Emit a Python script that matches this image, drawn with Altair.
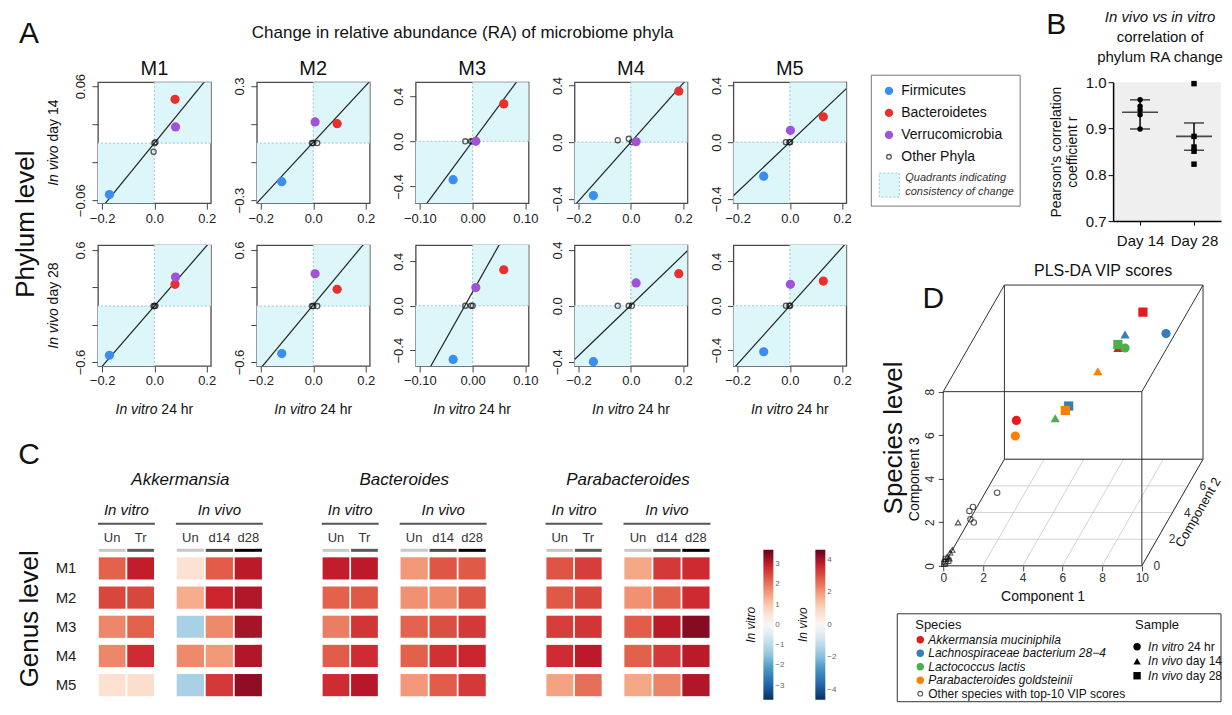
import altair as alt
import pandas as pd

FONT = "Liberation Sans"
ONE = pd.DataFrame({"k": [0]})

# ======================= Panel A: phylum-level RA change =======================
MICE = ["M1", "M2", "M3", "M4", "M5"]
PHYLA = ["Firmicutes", "Bacteroidetes", "Verrucomicrobia"]
PHYLA_COLORS = ["#3A8DF3", "#E8312D", "#A052D8"]
QUAD_FILL = "#DDF6FA"
QUAD_LINE = "#9CC6CF"

VITRO_FIRMICUTES = [-0.172, -0.120, -0.037, -0.143, -0.100]
VITRO_BACTEROIDETES = [0.079, 0.091, 0.059, 0.183, 0.128]
VITRO_VERRUCO = [0.081, 0.007, 0.006, 0.020, 0.002]
VITRO_OTHER = [[0.000, -0.003, 0.004], [-0.005, 0.015, 0.000], [-0.014, -0.003, 0.000],
               [-0.050, -0.008, 0.004], [-0.015, -0.002, 0.001]]

D14_FIRMICUTES = [-0.054, -0.203, -0.340, -0.377, -0.240]
D14_BACTEROIDETES = [0.046, 0.102, 0.332, 0.360, 0.179]
D14_VERRUCO = [0.017, 0.111, 0.000, 0.003, 0.084]
D14_OTHER = [[0.000, -0.009, 0.001], [0.000, 0.000, 0.000], [0.000, 0.000, 0.000],
             [0.014, 0.024, 0.000], [0.000, 0.000, 0.000]]
D14_FIT_SLOPE = [0.337, 1.49, 6.33, 2.08, 1.75]
D14_FIT_INTERCEPT = [0.0, 0.004, 0.0, 0.0, 0.0]

D28_FIRMICUTES = [-0.527, -0.509, -0.483, -0.400, -0.414]
D28_BACTEROIDETES = [0.233, 0.180, 0.324, 0.230, 0.222]
D28_VERRUCO = [0.310, 0.346, 0.164, 0.164, 0.193]
D28_OTHER = [[0.000, 0.000, 0.002], [0.000, 0.000, 0.000], [0.000, 0.000, 0.000],
             [0.000, 0.000, 0.000], [0.000, 0.000, 0.000]]
D28_FIT_SLOPE = [3.23, 3.39, 8.43, 1.806, 2.62]
D28_FIT_INTERCEPT = [0.0, 0.012, 0.125, 0.004, 0.0]

X_DOMAINS = [[-0.216, 0.216], [-0.215, 0.215], [-0.108, 0.106], [-0.215, 0.216], [-0.216, 0.216]]
X_TICK_STEP = [0.1, 0.1, 0.05, 0.1, 0.1]
X_LABEL_EDGE = [0.2, 0.2, 0.1, 0.2, 0.2]
X_FMT = [".1f", ".1f", ".2f", ".1f", ".1f"]
X_ZERO = ["0.0", "0.0", "0.00", "0.0", "0.0"]
D14_Y_DOMAINS = [[-0.063, 0.064], [-0.316, 0.32], [-0.548, 0.524], [-0.43, 0.423], [-0.43, 0.423]]
D14_Y_STEP = [0.02, 0.1, 0.2, 0.2, 0.2]
D14_Y_EDGE = [0.06, 0.3, 0.4, 0.4, 0.4]
D14_Y_FMT = [".2f", ".1f", ".1f", ".1f", ".1f"]
D28_Y_DOMAINS = [[-0.642, 0.653], [-0.642, 0.653], [-0.542, 0.546], [-0.431, 0.435], [-0.542, 0.546]]
D28_Y_STEP = [0.2, 0.2, 0.2, 0.2, 0.2]
D28_Y_EDGE = [0.6, 0.6, 0.4, 0.4, 0.4]
D28_Y_FMT = [".1f", ".1f", ".1f", ".1f", ".1f"]

# ======================= Panel B =======================
DAYS = ["Day 14", "Day 28"]
DAY14_R = [0.962, 0.948, 0.940, 0.930, 0.899]
DAY28_R = [0.997, 0.883, 0.860, 0.851, 0.823]
B_MEAN = [0.935, 0.883]
B_LOW = [0.899, 0.853]
B_HIGH = [0.962, 0.912]

# ======================= Panel C: genus heatmaps =======================
GENERA = ["Akkermansia", "Bacteroides", "Parabacteroides"]
VITRO_COLS = ["Un", "Tr"]
VIVO_COLS = ["Un", "d14", "d28"]
COL_BAR = {"Un": "#C8C8C8", "Tr": "#5A5A5A", "d14": "#4A4A4A", "d28": "#000000"}
VITRO_LIMIT = 3.7
VIVO_LIMIT = 4.6
HEAT_COLORS = ["#053061", "#2166AC", "#4393C3", "#92C5DE", "#D1E5F0", "#F7F7F7",
               "#FDDBC7", "#F4A582", "#E2604A", "#C81E2B", "#67001F"]
AKK_VITRO = [[2.2, 3.0], [2.5, 2.5], [1.8, 2.2], [1.8, 2.8], [0.6, 0.65]]
AKK_VIVO = [[0.7, 2.8, 3.8], [1.7, 3.6, 3.9], [-1.5, 2.2, 4.0], [2.2, 2.0, 3.9], [-1.5, 3.3, 4.2]]
BAC_VITRO = [[3.0, 3.05], [2.2, 2.3], [1.9, 2.7], [2.25, 2.8], [2.8, 3.1]]
BAC_VIVO = [[2.0, 2.9, 2.85], [2.1, 2.2, 2.9], [2.7, 3.0, 3.3], [2.75, 3.4, 3.6], [2.0, 2.8, 3.3]]
PAR_VITRO = [[2.35, 2.6], [2.3, 2.5], [2.6, 2.7], [2.8, 3.05], [1.5, 2.05]]
PAR_VIVO = [[1.8, 3.3, 3.5], [2.1, 2.75, 3.5], [2.8, 3.8, 4.3], [2.75, 3.3, 3.8], [1.8, 2.3, 3.9]]

# ======================= Panel D: PLS-DA VIP scores =======================
SPECIES = ["Akkermansia muciniphila", "Lachnospiraceae bacterium 28\u22124",
           "Lactococcus lactis", "Parabacteroides goldsteinii"]
SPECIES_COLORS = ["#E41A1C", "#377EB8", "#4DAF4A", "#FF7F00"]
SAMPLES = ["In vitro 24 hr", "In vivo day 14", "In vivo day 28"]
SAMPLE_SHAPES = ["circle", "triangle-up", "square"]
D_SPECIES = [SPECIES[0]] * 3 + [SPECIES[1]] * 3 + [SPECIES[2]] * 3 + [SPECIES[3]] * 3
D_SAMPLE = SAMPLES * 4
D_C1 = [2.66, 6.35, 7.26, 8.33, 6.61, 4.56, 6.61, 4.07, 6.35, 2.62, 5.62, 4.44]
D_C2 = [2.66, 6.35, 7.26, 7.50, 6.61, 4.56, 6.61, 4.07, 6.35, 2.62, 5.62, 4.44]
D_C3 = [5.05, 6.12, 7.21, 6.08, 6.58, 4.55, 5.96, 4.29, 6.28, 4.36, 5.50, 4.42]
OTHER_SAMPLE = ["In vitro 24 hr", "In vitro 24 hr", "In vitro 24 hr", "In vivo day 14",
                "In vitro 24 hr", "In vitro 24 hr", "In vivo day 14", "In vivo day 14",
                "In vivo day 28", "In vivo day 28", "In vivo day 14", "In vivo day 28",
                "In vivo day 28", "In vivo day 14"]
OTHER_C1 = [1.96, 1.08, 0.95, 0.54, 0.99, 1.11, 0.14, 0.25, 0.07, 0.18, 0.33, 0.04, 0.10, 0.22]
OTHER_C2 = [1.96, 1.08, 0.95, 0.54, 0.99, 1.11, 0.14, 0.25, 0.07, 0.18, 0.33, 0.04, 0.10, 0.22]
OTHER_C3 = [2.16, 2.04, 1.94, 1.66, 1.53, 1.31, 0.32, 0.45, 0.13, 0.12, 0.53, 0.07, 0.25, 0.20]
C1_MAX, C2_MAX, C3_MAX = 10, 8, 8
C1_TICKS = [0, 2, 4, 6, 8, 10]
C2_TICKS = [0, 2, 4, 6]
C3_TICKS = [0, 2, 4, 6, 8]

# ----------------------------------------------------------------------------
HELV = {" ": 278, "I": 278, "i": 222, "l": 222, "t": 278, "r": 333, "f": 278, "j": 222,
        "v": 500, "y": 500, "k": 500, "s": 500, "c": 500, "z": 500, "x": 500,
        "w": 722, "m": 833, ".": 278, "-": 333}


def text_w(s, size):
    return sum(HELV.get(c, 556) for c in s) * size / 1000.0


def txt(s, x, y, size=14, style="normal", align="center", baseline="middle",
        angle=0, color="#111111"):
    kw = dict(text=s, fontSize=size, fontStyle=style, align=align, baseline=baseline, color=color)
    if angle:
        kw["angle"] = angle
    return alt.Chart(ONE).mark_text(**kw).encode(x=alt.value(x), y=alt.value(y))


def mixed(it, rest, x, y, size=14, rotated=False):
    wi = text_w(it + " ", size)
    tot = wi + text_w(rest, size)
    if rotated:
        y0 = y + tot / 2
        return [txt(it, x, y0, size, "italic", "left", angle=270),
                txt(rest, x, y0 - wi, size, "normal", "left", angle=270)]
    x0 = x - tot / 2
    return [txt(it, x0, y, size, "italic", "left"),
            txt(rest, x0 + wi, y, size, "normal", "left")]


def anchor(x, y):
    return alt.Chart(ONE).mark_rule(opacity=0, strokeOpacity=0).encode(
        x=alt.value(x), x2=alt.value(x + 1), y=alt.value(y), y2=alt.value(y + 1))


def ticks(step, edge):
    n = int(round(edge / step))
    return [round(k * step, 6) for k in range(-n, n + 1)]


def label_expr(edge, fmt, zero):
    return (f"abs(datum.value) < 1e-9 ? '{zero}' : "
            f"(abs(abs(datum.value) - {edge}) < 1e-6 ? format(datum.value, '{fmt}') : '')")


def resolved(ch):
    return ch.resolve_scale(color="independent", shape="independent", fill="independent")


# ======================= Panel A charts =======================
WA, HA = 113, 121


def scatter_panel(i, row):
    xd = X_DOMAINS[i]
    if row == 0:
        yd, ystep, yedge, yfmt = D14_Y_DOMAINS[i], D14_Y_STEP[i], D14_Y_EDGE[i], D14_Y_FMT[i]
        yvals = [D14_FIRMICUTES[i], D14_BACTEROIDETES[i], D14_VERRUCO[i]]
        yother = D14_OTHER[i]
        slope, icpt = D14_FIT_SLOPE[i], D14_FIT_INTERCEPT[i]
    else:
        yd, ystep, yedge, yfmt = D28_Y_DOMAINS[i], D28_Y_STEP[i], D28_Y_EDGE[i], D28_Y_FMT[i]
        yvals = [D28_FIRMICUTES[i], D28_BACTEROIDETES[i], D28_VERRUCO[i]]
        yother = D28_OTHER[i]
        slope, icpt = D28_FIT_SLOPE[i], D28_FIT_INTERCEPT[i]
    xvals = [VITRO_FIRMICUTES[i], VITRO_BACTEROIDETES[i], VITRO_VERRUCO[i]]

    xs = alt.Scale(domain=xd, nice=False, zero=False)
    ys = alt.Scale(domain=yd, nice=False, zero=False)
    xaxis = alt.Axis(values=ticks(X_TICK_STEP[i], X_LABEL_EDGE[i]),
                     labelExpr=label_expr(X_LABEL_EDGE[i], X_FMT[i], X_ZERO[i]),
                     title=None, grid=False, domain=False, tickSize=6, tickColor="#444",
                     labelFontSize=13, labelPadding=3, labelColor="#222",
                     labelOverlap=False, labelFlush=False)
    yaxis = alt.Axis(values=ticks(ystep, yedge), labelExpr=label_expr(yedge, yfmt, "0.0"),
                     title=None, grid=False, domain=False, tickSize=6, tickColor="#444",
                     labelFontSize=13, labelPadding=4, labelColor="#222",
                     labelAngle=270, labelAlign="center", labelBaseline="bottom",
                     labelOverlap=False, labelFlush=False)

    def X(f):
        return alt.X(f, type="quantitative", scale=xs, axis=xaxis)

    def Y(f):
        return alt.Y(f, type="quantitative", scale=ys, axis=yaxis)

    shade_df = pd.DataFrame({"x0": [0, xd[0]], "x1": [xd[1], 0], "y0": [0, yd[0]], "y1": [yd[1], 0]})
    pts = pd.DataFrame({"phylum": PHYLA, "x": xvals, "y": yvals})
    oth = pd.DataFrame({"x": VITRO_OTHER[i], "y": yother})
    line_df = pd.DataFrame({"x": xd})

    layers = [
        alt.Chart(shade_df).mark_rect(color=QUAD_FILL).encode(x=X("x0"), x2="x1", y=Y("y0"), y2="y1"),
        alt.Chart(ONE).mark_rule(color=QUAD_LINE, strokeDash=[2, 2], strokeWidth=1).encode(x=alt.datum(0)),
        alt.Chart(ONE).mark_rule(color=QUAD_LINE, strokeDash=[2, 2], strokeWidth=1).encode(y=alt.datum(0)),
        alt.Chart(line_df).transform_calculate(y=f"{slope} * datum.x + {icpt}")
        .mark_line(clip=True, color="#222", strokeWidth=1.2).encode(x=X("x"), y=Y("y")),
        alt.Chart(oth).mark_point(shape="circle", filled=False, size=26, strokeWidth=1.3,
                                  color="#111").encode(x=X("x"), y=Y("y")),
        alt.Chart(pts).mark_circle(size=85, opacity=1).encode(
            x=X("x"), y=Y("y"),
            color=alt.Color("phylum:N", scale=alt.Scale(domain=PHYLA, range=PHYLA_COLORS), legend=None)),
    ]
    if row == 0:
        layers.append(txt(MICE[i], WA / 2, -13, 20))
    if i == 0:
        layers += mixed("In vivo", "day " + ("14" if row == 0 else "28"), -44, HA / 2, 14, rotated=True)
    if row == 1:
        layers += mixed("In vitro", "24 hr", WA / 2, HA + 44, 14)
    if i == 4 and row == 0:
        layers.append(anchor(126, 0))
    return alt.layer(*layers).properties(
        width=WA, height=HA, view=alt.ViewBackground(stroke="#4a4a4a", strokeWidth=1.3))


labelA1 = alt.layer(
    anchor(0, -74),
    txt("A", 21, -48, 30),
    txt("Change in relative abundance (RA) of microbiome phyla", 455, -49, 17),
    txt("Phylum level", 18, 142, 26, angle=270),
).properties(width=44, height=HA)
labelA2 = alt.layer(anchor(0, 183)).properties(width=44, height=HA)

grid_items = [labelA1] + [scatter_panel(i, 0) for i in range(5)] + \
             [labelA2] + [scatter_panel(i, 1) for i in range(5)]
gridA = resolved(alt.concat(*grid_items, columns=6, spacing={"row": 42, "column": 46},
                            bounds="flush", align="each"))

# ======================= Panel C charts =======================
HH = 146
GENUS_VITRO = [AKK_VITRO, BAC_VITRO, PAR_VITRO]
GENUS_VIVO = [AKK_VIVO, BAC_VIVO, PAR_VIVO]


def heat_chart(g, kind, vals, first=False, legend=None):
    cols = VITRO_COLS if kind == "vitro" else VIVO_COLS
    lim = VITRO_LIMIT if kind == "vitro" else VIVO_LIMIT
    w = 57 if kind == "vitro" else 87
    cw = 57 if kind == "vitro" else 125
    df = pd.DataFrame([{"mouse": MICE[r], "col": cols[c], "value": vals[r][c]}
                       for r in range(len(MICE)) for c in range(len(cols))])
    bars = pd.DataFrame({"col": cols, "shade": [COL_BAR[c] for c in cols]})
    xs = alt.Scale(domain=cols, range=[0, w], paddingInner=0.06, paddingOuter=0.03)
    ys = alt.Scale(domain=MICE, paddingInner=0.24, paddingOuter=0.12)
    cdom = [-lim + 2 * lim * k / (len(HEAT_COLORS) - 1) for k in range(len(HEAT_COLORS))]
    xaxis = alt.Axis(orient="top", title=None, labelAngle=0, ticks=False, domain=False,
                     labelFontSize=13, labelPadding=9, labelColor="#333")
    yaxis = alt.Axis(title=None, ticks=False, domain=False, labelFontSize=15,
                     labelPadding=22, labelColor="#222") if first else None
    layers = [
        alt.Chart(df).mark_rect().encode(
            x=alt.X("col:N", sort=cols, scale=xs, axis=xaxis),
            y=alt.Y("mouse:N", sort=MICE, scale=ys, axis=yaxis),
            color=alt.Color("value:Q", scale=alt.Scale(domain=cdom, range=HEAT_COLORS,
                                                       interpolate="rgb"), legend=legend)),
        alt.Chart(bars).mark_rect().encode(
            x=alt.X("col:N", sort=cols, scale=xs, axis=xaxis),
            y=alt.value(-5), y2=alt.value(-2), fill=alt.Fill("shade:N", scale=None)),
        txt("In vitro" if kind == "vitro" else "In vivo", w / 2, -44, 15, "italic"),
        alt.Chart(ONE).mark_rule(color="#555", strokeWidth=2).encode(
            x=alt.value(0), x2=alt.value(w), y=alt.value(-30)),
    ]
    if kind == "vitro":
        layers.append(txt(GENERA[g], (57 + 21 + 87) / 2, -74, 17, "italic"))
    return alt.layer(*layers).properties(width=cw, height=HH)


def heat_legend(title, vals, lx):
    return alt.Legend(orient="none", legendX=lx, legendY=-4, direction="vertical", title=title,
                      titleOrient="left", titleAnchor="middle", titleFontStyle="italic",
                      titleFontWeight="normal", titleFontSize=12, titleColor="#111", titlePadding=4,
                      gradientLength=150, gradientThickness=10, gradientStrokeWidth=0,
                      labelFontSize=8, labelColor="#666", values=vals)


labelC = alt.layer(
    anchor(0, -120),
    txt("C", 21, -99, 30),
    txt("Genus level", 22, 65, 26, angle=270),
).properties(width=69, height=HH)

heats = []
for g in range(3):
    last = g == 2
    heats.append(heat_chart(g, "vitro", GENUS_VITRO[g], first=(g == 0),
                            legend=heat_legend("In vitro", [-3, -2, -1, 0, 1, 2, 3], 200) if last else None))
    heats.append(heat_chart(g, "vivo", GENUS_VIVO[g],
                            legend=heat_legend("In vivo", [-4, -2, 0, 2, 4], 174) if last else None))
heatrow = resolved(alt.hconcat(labelC, *heats, spacing=21, bounds="flush"))

leftcol = resolved(alt.vconcat(gridA, heatrow, spacing=5))

# ======================= Legend for A =======================
leg_rows = pd.DataFrame({"label": PHYLA + ["Other Phyla"], "row": [0, 1, 2, 3]})
legA = alt.layer(
    alt.Chart(ONE).mark_rect(fillOpacity=0, stroke="#777", strokeWidth=1).encode(
        x=alt.value(0), x2=alt.value(149), y=alt.value(-7), y2=alt.value(124)),
    alt.Chart(leg_rows).transform_filter("datum.row < 3").transform_calculate(yp="8.7 + 22 * datum.row")
    .mark_circle(size=70, opacity=1).encode(
        x=alt.value(17.7), y=alt.Y("yp:Q", scale=None),
        color=alt.Color("label:N", scale=alt.Scale(domain=PHYLA, range=PHYLA_COLORS), legend=None)),
    alt.Chart(leg_rows).transform_filter("datum.row == 3").transform_calculate(yp="8.7 + 22 * datum.row")
    .mark_point(shape="circle", filled=False, size=22, strokeWidth=1.3, color="#111").encode(
        x=alt.value(17.7), y=alt.Y("yp:Q", scale=None)),
    alt.Chart(leg_rows).transform_calculate(yp="8.7 + 22 * datum.row")
    .mark_text(align="left", baseline="middle", fontSize=14, color="#111").encode(
        x=alt.value(30), y=alt.Y("yp:Q", scale=None), text="label:N"),
    alt.Chart(ONE).mark_rect(fill=QUAD_FILL, stroke=QUAD_LINE, strokeDash=[2, 2], strokeWidth=1).encode(
        x=alt.value(8), x2=alt.value(28), y=alt.value(91), y2=alt.value(115)),
    txt("Quadrants indicating", 34, 96, 11, "italic", "left", color="#333"),
    txt("consistency of change", 34, 110, 11, "italic", "left", color="#333"),
).properties(width=149, height=124)

# ======================= Panel B chart =======================
WB, HB = 108, 139
b_pts = pd.DataFrame({"day": [DAYS[0]] * len(DAY14_R) + [DAYS[1]] * len(DAY28_R),
                      "r": DAY14_R + DAY28_R})
b_sum = pd.DataFrame({"day": DAYS, "mean": B_MEAN, "lo": B_LOW, "hi": B_HIGH})
bxs = alt.Scale(domain=DAYS, type="point", padding=0.5)
bys = alt.Scale(domain=[0.7, 1.0], nice=False, zero=False)
bxaxis = alt.Axis(title=None, labelAngle=0, labelFontSize=15, tickSize=4, tickColor="black",
                  domainColor="black", domainWidth=1.5, labelPadding=8, labelColor="#111")
byaxis = alt.Axis(values=[0.7, 0.8, 0.9, 1.0], format=".1f", title=["Pearson's correlation", "coefficient r"],
                  titleFontSize=14, titleFontWeight="normal", titleColor="#111", labelFontSize=15,
                  labelColor="#111", tickSize=5, tickColor="black", domainColor="black",
                  domainWidth=1.5, grid=False, titlePadding=6)


def BX():
    return alt.X("day:N", scale=bxs, axis=bxaxis)


def BY(f):
    return alt.Y(f, type="quantitative", scale=bys, axis=byaxis)


bchart = alt.layer(
    alt.Chart(b_sum).mark_rule(color="black", strokeWidth=1.5).encode(x=BX(), y=BY("lo"), y2="hi"),
    alt.Chart(b_sum).mark_tick(color="black", size=36, thickness=1.6).encode(x=BX(), y=BY("mean")),
    alt.Chart(b_sum).mark_tick(color="black", size=20, thickness=1.5).encode(x=BX(), y=BY("lo")),
    alt.Chart(b_sum).mark_tick(color="black", size=20, thickness=1.5).encode(x=BX(), y=BY("hi")),
    alt.Chart(b_pts).mark_point(filled=True, size=30, opacity=1, color="black").encode(
        x=BX(), y=BY("r"),
        shape=alt.Shape("day:N", scale=alt.Scale(domain=DAYS, range=["circle", "square"]), legend=None)),
    anchor(0, -74),
    anchor(0, 173),
    txt("B", -57, -57, 30),
    txt("In vivo vs in vitro", 47, -65, 15, "italic"),
    txt("correlation of", 47, -45, 15),
    txt("phylum RA change", 47, -25, 15),
).properties(width=WB, height=HB, view=alt.ViewBackground(fill="#EFEFEF", stroke=None))

topright = resolved(alt.hconcat(legA, bchart, spacing=93, bounds="flush"))

# ======================= Panel D chart =======================
KX, KZ = 0.385, 0.612          # oblique shift of component 2 (per unit) along x / vertical
DW, DH = 260, 281
PXMAX = C1_MAX + KX * C2_MAX
PZMAX = C3_MAX + KZ * C2_MAX
dxs = alt.Scale(domain=[0, PXMAX], nice=False, zero=False)
dys = alt.Scale(domain=[0, PZMAX], nice=False, zero=False)
dxaxis = alt.Axis(values=C1_TICKS, title="Component 1", titleX=C1_MAX / 2 / PXMAX * DW,
                  titleFontSize=14, titleFontWeight="normal", titleColor="#111", titlePadding=6,
                  domain=False, grid=False, tickSize=5, tickColor="#444", labelFontSize=12,
                  labelColor="#333", labelFlush=False)
dyaxis = alt.Axis(values=C3_TICKS, title="Component 3", titleY=DH - C3_MAX / 2 / PZMAX * DH,
                  titleFontSize=14, titleFontWeight="normal", titleColor="#111", titlePadding=2,
                  domain=False, grid=False, tickSize=5, tickColor="#444", labelFontSize=12,
                  labelColor="#333", labelAngle=270, labelAlign="center", labelBaseline="bottom",
                  labelFlush=False)


def DX(f):
    return alt.X(f, type="quantitative", scale=dxs, axis=dxaxis)


def DY(f):
    return alt.Y(f, type="quantitative", scale=dys, axis=dyaxis)


def seg_df(segs):
    return pd.DataFrame([{"a1": a[0], "a2": a[1], "a3": a[2], "b1": b[0], "b2": b[1], "b3": b[2]}
                         for a, b in segs])


def seg_layer(df, color, width):
    return (alt.Chart(df)
            .transform_calculate(pxa=f"datum.a1 + {KX} * datum.a2", pza=f"datum.a3 + {KZ} * datum.a2",
                                 pxb=f"datum.b1 + {KX} * datum.b2", pzb=f"datum.b3 + {KZ} * datum.b2")
            .mark_rule(color=color, strokeWidth=width)
            .encode(x=DX("pxa"), x2="pxb", y=DY("pza"), y2="pzb"))


grid_segs = [((c, 0, 0), (c, C2_MAX, 0)) for c in C1_TICKS] + \
            [((0, c, 0), (C1_MAX, c, 0)) for c in [0, 2, 4, 6, 8]]
box_segs = []
for u in (0, C2_MAX):
    for v in (0, C3_MAX):
        box_segs.append(((0, u, v), (C1_MAX, u, v)))
for u in (0, C1_MAX):
    for v in (0, C3_MAX):
        box_segs.append(((u, 0, v), (u, C2_MAX, v)))
for u in (0, C1_MAX):
    for v in (0, C2_MAX):
        box_segs.append(((u, v, 0), (u, v, C3_MAX)))

d_df = pd.DataFrame({"species": D_SPECIES, "sample": D_SAMPLE, "c1": D_C1, "c2": D_C2, "c3": D_C3})
o_df = pd.DataFrame({"sample": OTHER_SAMPLE, "c1": OTHER_C1, "c2": OTHER_C2, "c3": OTHER_C3})
c2t_df = pd.DataFrame({"t": C2_TICKS})
proj = dict(px=f"datum.c1 + {KX} * datum.c2", pz=f"datum.c3 + {KZ} * datum.c2")
shape_enc = alt.Shape("sample:N", scale=alt.Scale(domain=SAMPLES, range=SAMPLE_SHAPES), legend=None)

dchart = alt.layer(
    seg_layer(seg_df(grid_segs), "#C8C8C8", 0.8),
    seg_layer(seg_df(box_segs), "#333333", 1.0),
    alt.Chart(o_df).transform_calculate(**proj).mark_point(filled=False, size=30, strokeWidth=1.1,
                                                           color="#111").encode(
        x=DX("px"), y=DY("pz"), shape=shape_enc),
    alt.Chart(d_df).transform_calculate(**proj).mark_point(filled=True, size=85, opacity=1).encode(
        x=DX("px"), y=DY("pz"), shape=shape_enc,
        color=alt.Color("species:N", scale=alt.Scale(domain=SPECIES, range=SPECIES_COLORS), legend=None)),
    alt.Chart(c2t_df).transform_calculate(px=f"{C1_MAX} + {KX} * datum.t", pz=f"{KZ} * datum.t")
    .mark_text(dx=15, fontSize=12, color="#333").encode(x=DX("px"), y=DY("pz"), text="t:Q"),
    alt.Chart(ONE).transform_calculate(px=f"{C1_MAX} + {KX} * {C2_MAX / 2} + 1.3",
                                       pz=f"{KZ} * {C2_MAX / 2}")
    .mark_text(text="Component 2", angle=300, fontSize=13, color="#111").encode(x=DX("px"), y=DY("pz")),
    txt("D", -10, 14, 30),
    txt("PLS-DA VIP scores", 160, -14, 16),
).properties(width=DW, height=DH)

labelD = alt.layer(
    anchor(0, -26),
    anchor(0, DH + 43),
    txt("Species level", 23, 153, 26, angle=270),
).properties(width=60, height=DH)
D_row = resolved(alt.hconcat(labelD, dchart, spacing=12, bounds="flush"))

# ======================= Legend for D =======================
LW, LH = 350, 88
LX = 72  # legend content origin (aligned with D plot)
sp_rows = pd.DataFrame({"label": SPECIES, "row": list(range(len(SPECIES)))})
sa_rows = pd.DataFrame({"label": SAMPLES, "row": list(range(len(SAMPLES)))})
sa_parts = pd.DataFrame({
    "row": list(range(len(SAMPLES))),
    "it": [" ".join(s.split(" ")[:2]) for s in SAMPLES],
    "rest": [" ".join(s.split(" ")[2:]) for s in SAMPLES],
})
sa_parts["off"] = [text_w(s + " ", 12) for s in sa_parts["it"]]

dleg = alt.layer(
    alt.Chart(ONE).mark_rect(fillOpacity=0, stroke="#333", strokeWidth=1).encode(
        x=alt.value(LX - 46), x2=alt.value(LW), y=alt.value(0), y2=alt.value(LH)),
    txt("Species", LX - 28, 11, 13, align="left"),
    txt("Sample", LX + 192, 11, 13, align="left"),
    alt.Chart(sp_rows).transform_calculate(yp="26 + 13.5 * datum.row").mark_circle(size=55, opacity=1).encode(
        x=alt.value(LX - 23), y=alt.Y("yp:Q", scale=None),
        color=alt.Color("label:N", scale=alt.Scale(domain=SPECIES, range=SPECIES_COLORS), legend=None)),
    alt.Chart(sp_rows).transform_calculate(yp="26 + 13.5 * datum.row")
    .mark_text(align="left", baseline="middle", fontSize=12, fontStyle="italic", color="#111").encode(
        x=alt.value(LX - 15), y=alt.Y("yp:Q", scale=None), text="label:N"),
    alt.Chart(ONE).mark_point(shape="circle", filled=False, size=22, strokeWidth=1.1, color="#111").encode(
        x=alt.value(LX - 23), y=alt.value(80)),
    txt("Other species with top-10 VIP scores", LX - 15, 80, 12, align="left"),
    alt.Chart(sa_rows).transform_calculate(yp="33 + 14.5 * datum.row").mark_point(filled=True, size=55,
                                                                                 opacity=1, color="black").encode(
        x=alt.value(LX + 194), y=alt.Y("yp:Q", scale=None),
        shape=alt.Shape("label:N", scale=alt.Scale(domain=SAMPLES, range=SAMPLE_SHAPES), legend=None)),
    alt.Chart(sa_parts).transform_calculate(yp="33 + 14.5 * datum.row")
    .mark_text(align="left", baseline="middle", fontSize=12, fontStyle="italic", color="#111").encode(
        x=alt.value(LX + 205), y=alt.Y("yp:Q", scale=None), text="it:N"),
    alt.Chart(sa_parts).transform_calculate(yp="33 + 14.5 * datum.row", xp=f"{LX + 205} + datum.off")
    .mark_text(align="left", baseline="middle", fontSize=12, color="#111").encode(
        x=alt.X("xp:Q", scale=None), y=alt.Y("yp:Q", scale=None), text="rest:N"),
).properties(width=LW, height=LH)

rightcol = resolved(alt.vconcat(topright, D_row, dleg, spacing=3))

chart = resolved(alt.hconcat(leftcol, rightcol, spacing=9)).properties(padding=0).configure(
    font=FONT, background="white").configure_view(stroke=None)

chart.save("out.html", embed_options={"renderer": "svg", "actions": False})
